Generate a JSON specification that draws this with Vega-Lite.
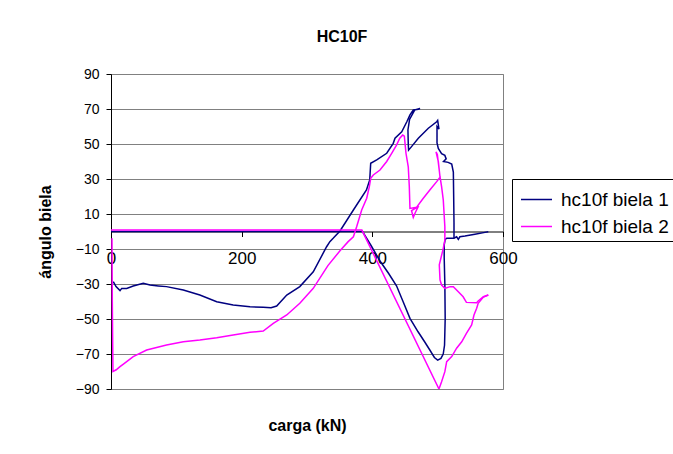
{
  "$schema": "https://vega.github.io/schema/vega-lite/v6.json",
  "width": 392,
  "height": 315,
  "autosize": {"type": "none"},
  "padding": {"left": 111, "top": 74, "right": 170, "bottom": 65},
  "background": "white",
  "title": {"text": "HC10F", "fontSize": 16, "font": "Liberation Sans", "fontWeight": "bold", "color": "black", "offset": 22, "dx": 35},
  "data": {"values": [
{"serie":"hc10f biela 1","tramo":"a","n":1,"carga":3.5,"angulo":-28.7},
{"serie":"hc10f biela 1","tramo":"a","n":2,"carga":7.7,"angulo":-31.5},
{"serie":"hc10f biela 1","tramo":"a","n":3,"carga":13.8,"angulo":-33.8},
{"serie":"hc10f biela 1","tramo":"a","n":4,"carga":16.4,"angulo":-32.5},
{"serie":"hc10f biela 1","tramo":"a","n":5,"carga":24,"angulo":-32.5},
{"serie":"hc10f biela 1","tramo":"a","n":6,"carga":34,"angulo":-31.1},
{"serie":"hc10f biela 1","tramo":"a","n":7,"carga":49.4,"angulo":-29.6},
{"serie":"hc10f biela 1","tramo":"a","n":8,"carga":59.7,"angulo":-30.6},
{"serie":"hc10f biela 1","tramo":"a","n":9,"carga":72.4,"angulo":-31.1},
{"serie":"hc10f biela 1","tramo":"a","n":10,"carga":85,"angulo":-31.5},
{"serie":"hc10f biela 1","tramo":"a","n":11,"carga":110.7,"angulo":-33.4},
{"serie":"hc10f biela 1","tramo":"a","n":12,"carga":136,"angulo":-36.3},
{"serie":"hc10f biela 1","tramo":"a","n":13,"carga":161.8,"angulo":-40.1},
{"serie":"hc10f biela 1","tramo":"a","n":14,"carga":187,"angulo":-42},
{"serie":"hc10f biela 1","tramo":"a","n":15,"carga":212.8,"angulo":-43},
{"serie":"hc10f biela 1","tramo":"a","n":16,"carga":233,"angulo":-43.3},
{"serie":"hc10f biela 1","tramo":"a","n":17,"carga":245,"angulo":-43.6},
{"serie":"hc10f biela 1","tramo":"a","n":18,"carga":253.6,"angulo":-42.6},
{"serie":"hc10f biela 1","tramo":"a","n":19,"carga":269,"angulo":-36.3},
{"serie":"hc10f biela 1","tramo":"a","n":20,"carga":289,"angulo":-31.5},
{"serie":"hc10f biela 1","tramo":"a","n":21,"carga":309.6,"angulo":-23},
{"serie":"hc10f biela 1","tramo":"a","n":22,"carga":330,"angulo":-8.7},
{"serie":"hc10f biela 1","tramo":"a","n":23,"carga":335,"angulo":-5.8},
{"serie":"hc10f biela 1","tramo":"a","n":24,"carga":340,"angulo":-3.9},
{"serie":"hc10f biela 1","tramo":"a","n":25,"carga":350.5,"angulo":0.3},
{"serie":"hc10f biela 1","tramo":"a","n":26,"carga":371,"angulo":12.3},
{"serie":"hc10f biela 1","tramo":"a","n":27,"carga":391,"angulo":23.7},
{"serie":"hc10f biela 1","tramo":"a","n":28,"carga":396,"angulo":29.4},
{"serie":"hc10f biela 1","tramo":"a","n":29,"carga":397.5,"angulo":39},
{"serie":"hc10f biela 1","tramo":"a","n":30,"carga":406.7,"angulo":40.9},
{"serie":"hc10f biela 1","tramo":"a","n":31,"carga":422,"angulo":44.7},
{"serie":"hc10f biela 1","tramo":"a","n":32,"carga":432,"angulo":50.4},
{"serie":"hc10f biela 1","tramo":"a","n":33,"carga":434.7,"angulo":53.3},
{"serie":"hc10f biela 1","tramo":"a","n":34,"carga":445,"angulo":57},
{"serie":"hc10f biela 1","tramo":"a","n":35,"carga":452.8,"angulo":62.7},
{"serie":"hc10f biela 1","tramo":"a","n":36,"carga":457.6,"angulo":66.6},
{"serie":"hc10f biela 1","tramo":"a","n":37,"carga":462.7,"angulo":69.4},
{"serie":"hc10f biela 1","tramo":"a","n":38,"carga":470.4,"angulo":69.8},
{"serie":"hc10f biela 1","tramo":"a","n":39,"carga":473,"angulo":70.3},
{"serie":"hc10f biela 1","tramo":"a","n":40,"carga":465,"angulo":69.5},
{"serie":"hc10f biela 1","tramo":"a","n":41,"carga":457,"angulo":64},
{"serie":"hc10f biela 1","tramo":"a","n":42,"carga":454.5,"angulo":58},
{"serie":"hc10f biela 1","tramo":"a","n":43,"carga":455,"angulo":50},
{"serie":"hc10f biela 1","tramo":"a","n":44,"carga":455.5,"angulo":46.5},
{"serie":"hc10f biela 1","tramo":"a","n":45,"carga":460,"angulo":48.5},
{"serie":"hc10f biela 1","tramo":"a","n":46,"carga":470.4,"angulo":53.3},
{"serie":"hc10f biela 1","tramo":"a","n":47,"carga":485.7,"angulo":59},
{"serie":"hc10f biela 1","tramo":"a","n":48,"carga":498.5,"angulo":62.7},
{"serie":"hc10f biela 1","tramo":"a","n":49,"carga":500,"angulo":63.5},
{"serie":"hc10f biela 1","tramo":"a","n":50,"carga":502,"angulo":58.5},
{"serie":"hc10f biela 1","tramo":"a","n":51,"carga":499,"angulo":60},
{"serie":"hc10f biela 1","tramo":"a","n":52,"carga":499,"angulo":50.6},
{"serie":"hc10f biela 1","tramo":"a","n":53,"carga":501,"angulo":47.5},
{"serie":"hc10f biela 1","tramo":"a","n":54,"carga":506,"angulo":44.5},
{"serie":"hc10f biela 1","tramo":"a","n":55,"carga":511,"angulo":43.5},
{"serie":"hc10f biela 1","tramo":"a","n":56,"carga":513,"angulo":41.5},
{"serie":"hc10f biela 1","tramo":"a","n":57,"carga":509,"angulo":40},
{"serie":"hc10f biela 1","tramo":"a","n":58,"carga":516,"angulo":39.5},
{"serie":"hc10f biela 1","tramo":"a","n":59,"carga":521.5,"angulo":38.5},
{"serie":"hc10f biela 1","tramo":"a","n":60,"carga":524,"angulo":34},
{"serie":"hc10f biela 1","tramo":"a","n":61,"carga":524.5,"angulo":20},
{"serie":"hc10f biela 1","tramo":"a","n":62,"carga":525,"angulo":5},
{"serie":"hc10f biela 1","tramo":"a","n":63,"carga":525,"angulo":-3.8},
{"serie":"hc10f biela 1","tramo":"b","n":1,"carga":0,"angulo":0},
{"serie":"hc10f biela 1","tramo":"b","n":2,"carga":385,"angulo":0},
{"serie":"hc10f biela 1","tramo":"b","n":3,"carga":398,"angulo":-8},
{"serie":"hc10f biela 1","tramo":"b","n":4,"carga":412,"angulo":-17},
{"serie":"hc10f biela 1","tramo":"b","n":5,"carga":425,"angulo":-24},
{"serie":"hc10f biela 1","tramo":"b","n":6,"carga":437,"angulo":-31},
{"serie":"hc10f biela 1","tramo":"b","n":7,"carga":447,"angulo":-40},
{"serie":"hc10f biela 1","tramo":"b","n":8,"carga":457.6,"angulo":-49.6},
{"serie":"hc10f biela 1","tramo":"b","n":9,"carga":470,"angulo":-57.3},
{"serie":"hc10f biela 1","tramo":"b","n":10,"carga":480,"angulo":-63},
{"serie":"hc10f biela 1","tramo":"b","n":11,"carga":488,"angulo":-67.7},
{"serie":"hc10f biela 1","tramo":"b","n":12,"carga":495,"angulo":-72},
{"serie":"hc10f biela 1","tramo":"b","n":13,"carga":500,"angulo":-73.5},
{"serie":"hc10f biela 1","tramo":"b","n":14,"carga":505,"angulo":-72.5},
{"serie":"hc10f biela 1","tramo":"b","n":15,"carga":508.5,"angulo":-70},
{"serie":"hc10f biela 1","tramo":"b","n":16,"carga":510.5,"angulo":-65},
{"serie":"hc10f biela 1","tramo":"b","n":17,"carga":511.5,"angulo":-50},
{"serie":"hc10f biela 1","tramo":"b","n":18,"carga":511,"angulo":-30},
{"serie":"hc10f biela 1","tramo":"b","n":19,"carga":510,"angulo":-15},
{"serie":"hc10f biela 1","tramo":"b","n":20,"carga":510,"angulo":-7.7},
{"serie":"hc10f biela 1","tramo":"b","n":21,"carga":511.5,"angulo":-4.5},
{"serie":"hc10f biela 1","tramo":"b","n":22,"carga":514,"angulo":-3.8},
{"serie":"hc10f biela 1","tramo":"b","n":23,"carga":525,"angulo":-3.8},
{"serie":"hc10f biela 1","tramo":"b","n":24,"carga":529,"angulo":-3},
{"serie":"hc10f biela 1","tramo":"b","n":25,"carga":531.6,"angulo":-4.5},
{"serie":"hc10f biela 1","tramo":"b","n":26,"carga":534,"angulo":-3},
{"serie":"hc10f biela 1","tramo":"b","n":27,"carga":541.8,"angulo":-2.6},
{"serie":"hc10f biela 1","tramo":"b","n":28,"carga":557,"angulo":-1.6},
{"serie":"hc10f biela 1","tramo":"b","n":29,"carga":572.4,"angulo":-0.5},
{"serie":"hc10f biela 1","tramo":"b","n":30,"carga":577.5,"angulo":-0.1},
{"serie":"hc10f biela 2","tramo":"a","n":1,"carga":1.5,"angulo":-3.9},
{"serie":"hc10f biela 2","tramo":"a","n":2,"carga":2,"angulo":-40},
{"serie":"hc10f biela 2","tramo":"a","n":3,"carga":3,"angulo":-80},
{"serie":"hc10f biela 2","tramo":"a","n":4,"carga":8,"angulo":-79},
{"serie":"hc10f biela 2","tramo":"a","n":5,"carga":13.8,"angulo":-77.2},
{"serie":"hc10f biela 2","tramo":"a","n":6,"carga":20,"angulo":-75.5},
{"serie":"hc10f biela 2","tramo":"a","n":7,"carga":34,"angulo":-71.5},
{"serie":"hc10f biela 2","tramo":"a","n":8,"carga":54.6,"angulo":-67.7},
{"serie":"hc10f biela 2","tramo":"a","n":9,"carga":85,"angulo":-64.9},
{"serie":"hc10f biela 2","tramo":"a","n":10,"carga":110.7,"angulo":-63},
{"serie":"hc10f biela 2","tramo":"a","n":11,"carga":136,"angulo":-62},
{"serie":"hc10f biela 2","tramo":"a","n":12,"carga":161.8,"angulo":-60.7},
{"serie":"hc10f biela 2","tramo":"a","n":13,"carga":187,"angulo":-59.1},
{"serie":"hc10f biela 2","tramo":"a","n":14,"carga":212.8,"angulo":-57.6},
{"serie":"hc10f biela 2","tramo":"a","n":15,"carga":233,"angulo":-56.9},
{"serie":"hc10f biela 2","tramo":"a","n":16,"carga":248.4,"angulo":-52.5},
{"serie":"hc10f biela 2","tramo":"a","n":17,"carga":269,"angulo":-47.7},
{"serie":"hc10f biela 2","tramo":"a","n":18,"carga":289,"angulo":-41},
{"serie":"hc10f biela 2","tramo":"a","n":19,"carga":309.6,"angulo":-32.5},
{"serie":"hc10f biela 2","tramo":"a","n":20,"carga":332,"angulo":-19.5},
{"serie":"hc10f biela 2","tramo":"a","n":21,"carga":350.5,"angulo":-11},
{"serie":"hc10f biela 2","tramo":"a","n":22,"carga":363,"angulo":-5.8},
{"serie":"hc10f biela 2","tramo":"a","n":23,"carga":371,"angulo":-3},
{"serie":"hc10f biela 2","tramo":"a","n":24,"carga":376,"angulo":2.7},
{"serie":"hc10f biela 2","tramo":"a","n":25,"carga":383.7,"angulo":12.3},
{"serie":"hc10f biela 2","tramo":"a","n":26,"carga":391.4,"angulo":19},
{"serie":"hc10f biela 2","tramo":"a","n":27,"carga":395.4,"angulo":25.6},
{"serie":"hc10f biela 2","tramo":"a","n":28,"carga":397.5,"angulo":30.4},
{"serie":"hc10f biela 2","tramo":"a","n":29,"carga":401.5,"angulo":32.3},
{"serie":"hc10f biela 2","tramo":"a","n":30,"carga":411.7,"angulo":35.1},
{"serie":"hc10f biela 2","tramo":"a","n":31,"carga":422,"angulo":40},
{"serie":"hc10f biela 2","tramo":"a","n":32,"carga":429.6,"angulo":44.7},
{"serie":"hc10f biela 2","tramo":"a","n":33,"carga":437,"angulo":49.4},
{"serie":"hc10f biela 2","tramo":"a","n":34,"carga":442,"angulo":53.3},
{"serie":"hc10f biela 2","tramo":"a","n":35,"carga":446.5,"angulo":55.1},
{"serie":"hc10f biela 2","tramo":"a","n":36,"carga":449,"angulo":54.5},
{"serie":"hc10f biela 2","tramo":"a","n":37,"carga":451.5,"angulo":44.7},
{"serie":"hc10f biela 2","tramo":"a","n":38,"carga":455,"angulo":37},
{"serie":"hc10f biela 2","tramo":"a","n":39,"carga":456.6,"angulo":25.6},
{"serie":"hc10f biela 2","tramo":"a","n":40,"carga":457.6,"angulo":13.2},
{"serie":"hc10f biela 2","tramo":"a","n":41,"carga":470,"angulo":14},
{"serie":"hc10f biela 2","tramo":"a","n":42,"carga":466,"angulo":11},
{"serie":"hc10f biela 2","tramo":"a","n":43,"carga":462.7,"angulo":8.1},
{"serie":"hc10f biela 2","tramo":"a","n":44,"carga":460,"angulo":12},
{"serie":"hc10f biela 2","tramo":"a","n":45,"carga":467,"angulo":13.5},
{"serie":"hc10f biela 2","tramo":"a","n":46,"carga":478,"angulo":19},
{"serie":"hc10f biela 2","tramo":"a","n":47,"carga":488,"angulo":23.7},
{"serie":"hc10f biela 2","tramo":"a","n":48,"carga":498.5,"angulo":28.5},
{"serie":"hc10f biela 2","tramo":"a","n":49,"carga":503.6,"angulo":31},
{"serie":"hc10f biela 2","tramo":"a","n":50,"carga":501,"angulo":40},
{"serie":"hc10f biela 2","tramo":"a","n":51,"carga":497.5,"angulo":45.5},
{"serie":"hc10f biela 2","tramo":"a","n":52,"carga":499.5,"angulo":44},
{"serie":"hc10f biela 2","tramo":"a","n":53,"carga":503.6,"angulo":31.3},
{"serie":"hc10f biela 2","tramo":"a","n":54,"carga":506,"angulo":25.6},
{"serie":"hc10f biela 2","tramo":"a","n":55,"carga":508.6,"angulo":18},
{"serie":"hc10f biela 2","tramo":"a","n":56,"carga":511,"angulo":2.7},
{"serie":"hc10f biela 2","tramo":"a","n":57,"carga":511,"angulo":-4.9},
{"serie":"hc10f biela 2","tramo":"a","n":58,"carga":508.6,"angulo":-9.6},
{"serie":"hc10f biela 2","tramo":"a","n":59,"carga":502.5,"angulo":-19.1},
{"serie":"hc10f biela 2","tramo":"a","n":60,"carga":503.6,"angulo":-27.7},
{"serie":"hc10f biela 2","tramo":"a","n":61,"carga":506,"angulo":-30.6},
{"serie":"hc10f biela 2","tramo":"a","n":62,"carga":511,"angulo":-32.5},
{"serie":"hc10f biela 2","tramo":"a","n":63,"carga":519,"angulo":-31.5},
{"serie":"hc10f biela 2","tramo":"a","n":64,"carga":524,"angulo":-31.5},
{"serie":"hc10f biela 2","tramo":"a","n":65,"carga":531.6,"angulo":-34.4},
{"serie":"hc10f biela 2","tramo":"a","n":66,"carga":539,"angulo":-37.3},
{"serie":"hc10f biela 2","tramo":"a","n":67,"carga":544,"angulo":-40.5},
{"serie":"hc10f biela 2","tramo":"a","n":68,"carga":559.7,"angulo":-40.7},
{"serie":"hc10f biela 2","tramo":"a","n":69,"carga":562,"angulo":-39.7},
{"serie":"hc10f biela 2","tramo":"a","n":70,"carga":570,"angulo":-37.3},
{"serie":"hc10f biela 2","tramo":"a","n":71,"carga":577.5,"angulo":-36.3},
{"serie":"hc10f biela 2","tramo":"b","n":1,"carga":0,"angulo":0.8},
{"serie":"hc10f biela 2","tramo":"b","n":2,"carga":384,"angulo":0.8},
{"serie":"hc10f biela 2","tramo":"b","n":3,"carga":502,"angulo":-90},
{"serie":"hc10f biela 2","tramo":"b","n":4,"carga":506,"angulo":-85.8},
{"serie":"hc10f biela 2","tramo":"b","n":5,"carga":511,"angulo":-80.1},
{"serie":"hc10f biela 2","tramo":"b","n":6,"carga":513.8,"angulo":-74.4},
{"serie":"hc10f biela 2","tramo":"b","n":7,"carga":521.5,"angulo":-71.5},
{"serie":"hc10f biela 2","tramo":"b","n":8,"carga":529,"angulo":-66.7},
{"serie":"hc10f biela 2","tramo":"b","n":9,"carga":536.8,"angulo":-63},
{"serie":"hc10f biela 2","tramo":"b","n":10,"carga":544,"angulo":-58.2},
{"serie":"hc10f biela 2","tramo":"b","n":11,"carga":552,"angulo":-53.4},
{"serie":"hc10f biela 2","tramo":"b","n":12,"carga":555.6,"angulo":-47.7},
{"serie":"hc10f biela 2","tramo":"b","n":13,"carga":559.7,"angulo":-43.9},
{"serie":"hc10f biela 2","tramo":"b","n":14,"carga":562,"angulo":-41},
{"serie":"hc10f biela 2","tramo":"b","n":15,"carga":570,"angulo":-37.5},
{"serie":"hc10f biela 2","tramo":"b","n":16,"carga":577.5,"angulo":-36.3}
  ]},
  "mark": {"type": "line", "strokeWidth": 1.5, "clip": true},
  "encoding": {
    "x": {"field": "carga", "type": "quantitative",
      "scale": {"domain": [0, 600], "nice": false, "zero": false},
      "axis": {"title": "carga (kN)", "offset": -157.5, "values": [0, 200, 400, 600], "grid": false,
        "domainColor": "black", "tickColor": "black", "tickSize": 5, "labelFontSize": 17, "labelColor": "black",
        "labelPadding": 14, "labelFlush": false, "labelOverlap": false, "labelFont": "Liberation Sans",
        "titleFontSize": 16, "titleFontWeight": "bold", "titleColor": "black", "titleFont": "Liberation Sans",
        "titleY": 194, "titleBaseline": "middle"}},
    "y": {"field": "angulo", "type": "quantitative",
      "scale": {"domain": [-90, 90], "nice": false, "zero": false},
      "axis": {"title": "ángulo biela", "values": [-90, -70, -50, -30, -10, 10, 30, 50, 70, 90], "grid": true,
        "gridColor": "#808080", "gridOpacity": 1, "domainColor": "black", "tickColor": "black", "tickSize": 5,
        "labelFontSize": 14, "labelColor": "black", "labelPadding": 7, "labelFlush": false, "labelFont": "Liberation Sans",
        "titleFontSize": 16, "titleFontWeight": "bold", "titleColor": "black", "titleFont": "Liberation Sans",
        "titleX": -66, "titleY": 157.5, "titleBaseline": "middle", "titleAngle": -90, "titleAlign": "center"}},
    "color": {"field": "serie", "type": "nominal",
      "scale": {"domain": ["hc10f biela 1", "hc10f biela 2"], "range": ["#000080", "#FF00FF"]},
      "legend": {"orient": "none", "legendX": 401, "legendY": 105, "title": null, "strokeColor": "black",
        "fillColor": "white", "padding": 4, "symbolOffset": 4, "symbolType": "stroke", "symbolSize": 961, "symbolStrokeWidth": 1.5,
        "labelFontSize": 19, "labelColor": "black", "labelFont": "Liberation Sans", "rowPadding": 0, "labelOffset": 8}},
    "detail": {"field": "tramo", "type": "nominal"},
    "order": {"field": "n", "type": "quantitative"}
  },
  "config": {"view": {"stroke": "#808080", "strokeWidth": 1}, "font": "Liberation Sans"}
}
